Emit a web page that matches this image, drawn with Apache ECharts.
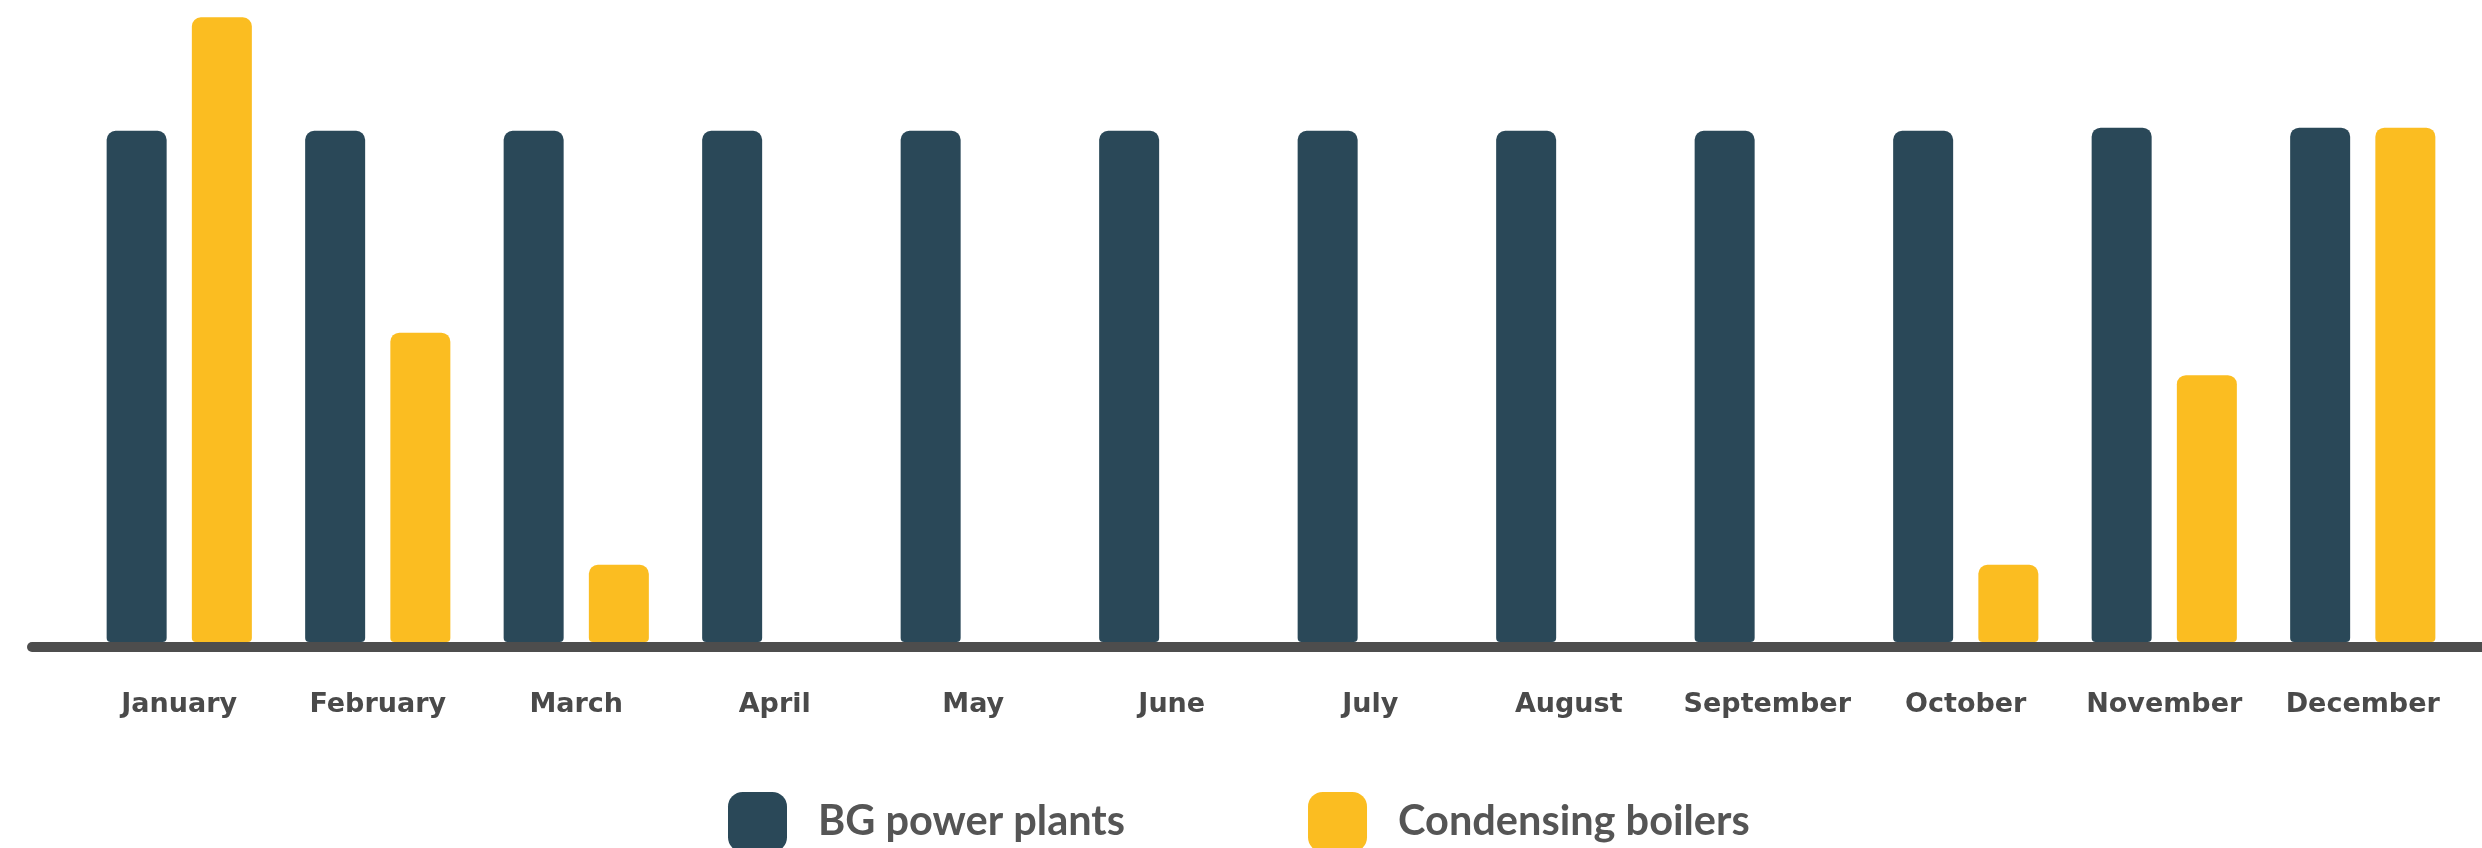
<!DOCTYPE html>
<html>
<head>
<meta charset="utf-8">
<script src="https://cdn.jsdelivr.net/npm/echarts@6/dist/echarts.min.js"></script>
<style>
html,body{margin:0;padding:0;background:#fff;}
#chart{width:2482px;height:848px;}
</style>
</head>
<body>
<div id="chart"></div>
<script>
const months = ['January','February','March','April','May','June','July','August','September','October','November','December'];
const bgPowerPlants = [100,100,100,100,100,100,100,100,100,100,100.6,100.6];
const condensingBoilers = [122.2,60.5,15.1,0,0,0,0,0,0,15.1,52.2,100.6];
const seriesNames = ['BG power plants','Condensing boilers'];

const chart = echarts.init(document.getElementById('chart'));
const fontFam = 'Lato, "Open Sans", sans-serif';
chart.setOption({
  animation:false,
  backgroundColor:'#ffffff',
  grid:[
    {left:80,right:20,top:3,bottom:206},
    {left:32,right:-10,top:3,bottom:201}
  ],
  legend:{
    data:seriesNames,
    left:728, top:792,
    itemWidth:59, itemHeight:60,
    itemGap:183,
    padding:0,
    icon:'roundRect',
    textStyle:{fontFamily:fontFam,fontWeight:'bold',fontSize:41.5,color:'#555555',padding:[0,0,0,26]}
  },
  xAxis:[
    {type:'category',gridIndex:0,data:months,
     axisLine:{show:false},axisTick:{show:false},
     axisLabel:{interval:0,hideOverlap:false,margin:49,fontFamily:'"DejaVu Sans", sans-serif',fontWeight:'bold',fontSize:27,color:'#4a4a4a'}},
    {type:'value',gridIndex:1,min:0,max:1,
     axisLine:{show:true,lineStyle:{color:'#4d4d4d',width:10,cap:'round'}},
     axisTick:{show:false},axisLabel:{show:false},splitLine:{show:false}}
  ],
  yAxis:[
    {type:'value',gridIndex:0,min:0,max:125,show:false,splitLine:{show:false}},
    {type:'value',gridIndex:1,min:0,max:1,show:false,splitLine:{show:false}}
  ],
  series:[
    {name:seriesNames[0],type:'bar',data:bgPowerPlants,barWidth:60,barGap:'42%',
     itemStyle:{color:'#2a4858',borderRadius:[9,9,4,4]}},
    {name:seriesNames[1],type:'bar',data:condensingBoilers,barWidth:60,barGap:'42%',
     itemStyle:{color:'#fbbd21',borderRadius:[9,9,4,4]}}
  ]
});
</script>
</body>
</html>
